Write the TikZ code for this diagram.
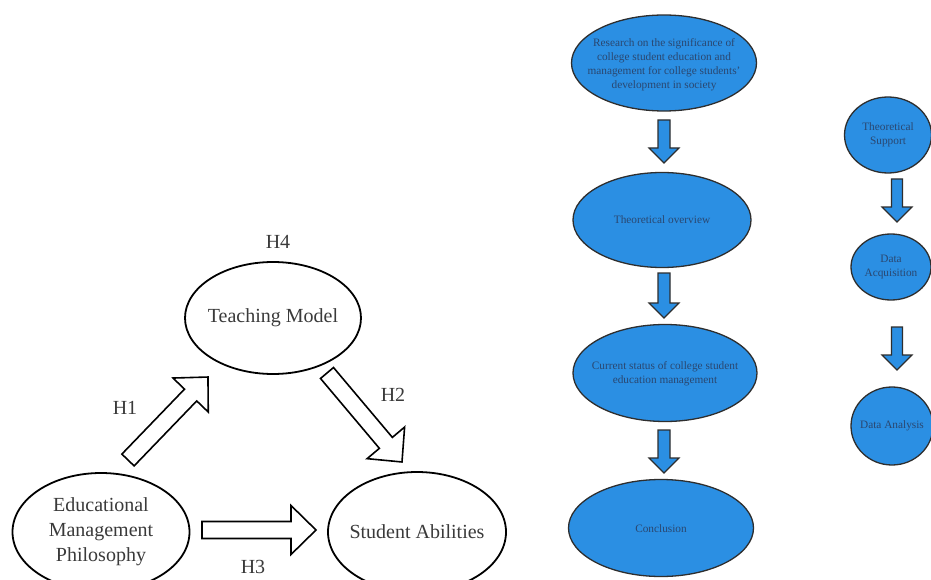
\documentclass[tikz,border=0pt]{standalone}
\usepackage{fontspec}
\setmainfont{Liberation Serif}
\usetikzlibrary{calc,shapes.geometric}
\definecolor{lgray}{HTML}{3A3A3A}
\definecolor{fblue}{HTML}{2B8FE3}
\definecolor{tblue}{HTML}{2A4770}
\definecolor{eline}{HTML}{2E2E2E}
\tikzset{
  bigell/.style={ellipse, draw=black, line width=1.8pt, inner sep=0pt},
  bigtxt/.style={text=lgray, font=\fontsize{20}{25}\selectfont, align=center, inner sep=0pt},
  lbl/.style={text=lgray, font=\fontsize{20}{23}\selectfont, inner sep=0pt},
  blueell/.style={ellipse, draw=eline, line width=1.3pt, fill=fblue, inner sep=0pt},
  bluetxt/.style={text=tblue, font=\fontsize{11.3}{14}\selectfont, align=center, inner sep=0pt},
  blk/.style={draw=black, line width=1.6pt, fill=white, line join=miter},
  bluearr/.style={draw=eline, line width=1.2pt, fill=fblue, line join=miter},
}
\newcommand\blockarrow[6]{%
  \path let \p1=($(#3)-(#2)$), \n1={atan2(\y1,\x1)}, \n2={veclen(\x1,\y1)} in
    \pgfextra{\xdef\barang{\n1}\xdef\barlen{\n2}};
  \begin{scope}[shift={(#2)}, rotate=\barang]
    \draw[#1] (0,-#4) -- (\barlen-#6,-#4) -- (\barlen-#6,-#5) -- (\barlen,0)
      -- (\barlen-#6,#5) -- (\barlen-#6,#4) -- (0,#4) -- cycle;
  \end{scope}}
\begin{document}
\begin{tikzpicture}[x=1pt,y=-1pt]
\useasboundingbox (0,0) rectangle (931,580);
\fill[white] (0,0) rectangle (931,580);

% left diagram
\node[bigell, minimum width=176, minimum height=112,
  label={[bigtxt]center:Teaching Model}] (tm) at (273,318) {};
\node[bigell, minimum width=177, minimum height=118,
  label={[bigtxt]center:{Educational\\Management\\Philosophy}}] (emp) at (101,532) {};
\node[bigell, minimum width=178, minimum height=120,
  label={[bigtxt]center:Student Abilities}] (sa) at (417,532) {};

\node[lbl] (h4) at (278,242) {H4};
\node[lbl] (h1) at (125,408) {H1};
\node[lbl] (h2) at (393,395) {H2};
\node[lbl] (h3) at (253,567) {H3};

\coordinate (h1s) at (128,460);
\coordinate (h1e) at (208,377);
\coordinate (h2s) at (327,373);
\coordinate (h2e) at (402,462);
\coordinate (h3s) at (202,530);
\coordinate (h3e) at (316,530);
\blockarrow{blk}{h1s}{h1e}{8.5}{24.5}{25}
\blockarrow{blk}{h2s}{h2e}{8.5}{24.5}{25}
\blockarrow{blk}{h3s}{h3e}{8.5}{24.5}{25}

% middle flowchart
\node[blueell, minimum width=185, minimum height=96,
  label={[bluetxt, yshift=-2pt]center:{Research on the significance of\\college student education and\\management for college students'\\development in society}}] (e1) at (664,63) {};
\node[blueell, minimum width=178, minimum height=95,
  label={[bluetxt]center:Theoretical overview}] (e2) at (662,220) {};
\node[blueell, minimum width=184, minimum height=97,
  label={[bluetxt, yshift=-1pt]center:{Current status of college student\\education management}}] (e3) at (665,373) {};
\node[blueell, minimum width=185, minimum height=97,
  label={[bluetxt, yshift=-1pt]center:Conclusion}] (e4) at (661,528) {};

\coordinate (a1s) at (664,120); \coordinate (a1e) at (664,163);
\coordinate (a2s) at (664,273); \coordinate (a2e) at (664,318);
\coordinate (a3s) at (664,430); \coordinate (a3e) at (664,473);
\blockarrow{bluearr}{a1s}{a1e}{6}{15}{15}
\blockarrow{bluearr}{a2s}{a2e}{6}{15}{15}
\blockarrow{bluearr}{a3s}{a3e}{6}{15}{15}

% right flowchart
\node[blueell, minimum width=87, minimum height=76,
  label={[bluetxt]center:{Theoretical\\Support}}] (t1) at (888,135) {};
\node[blueell, minimum width=80, minimum height=66,
  label={[bluetxt]center:{Data\\Acquisition}}] (t2) at (891,267) {};
\node[blueell, minimum width=82, minimum height=78,
  label={[bluetxt]center:Data Analysis}] (t3) at (892,426) {};

\coordinate (b1s) at (897,179); \coordinate (b1e) at (897,222);
\coordinate (b2s) at (897,327); \coordinate (b2e) at (897,370);
\blockarrow{bluearr}{b1s}{b1e}{5.5}{15}{15}
\blockarrow{bluearr}{b2s}{b2e}{5.5}{15}{15}
\end{tikzpicture}
\end{document}
